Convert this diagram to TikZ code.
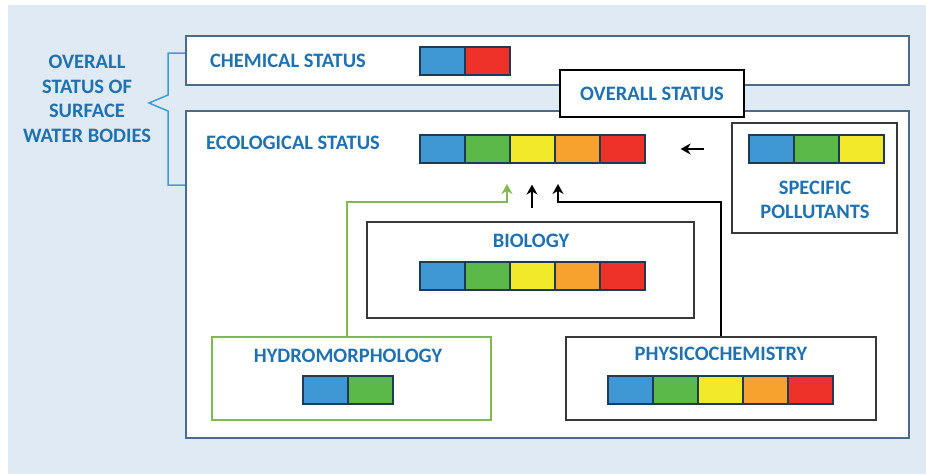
\documentclass[tikz,border=0pt]{standalone}
\usepackage{fontspec}
\setmainfont{Carlito}
\usetikzlibrary{arrows.meta, positioning}
\definecolor{panelBlue}{HTML}{DFEAF5}
\definecolor{frameBlue}{HTML}{4A6B8A}
\definecolor{labelBlue}{HTML}{1F72AF}
\definecolor{braceBlue}{HTML}{3A9FD8}
\definecolor{cellBlue}{HTML}{3F98D4}
\definecolor{cellGreen}{HTML}{5BBA47}
\definecolor{cellYellow}{HTML}{F1E92A}
\definecolor{cellOrange}{HTML}{F7A12F}
\definecolor{cellRed}{HTML}{EE3129}
\definecolor{cellEdge}{HTML}{1E3A56}
\definecolor{hydroGreen}{HTML}{80B950}

\begin{document}
\begin{tikzpicture}[x=1pt, y=-1pt,
    frame/.style={draw=frameBlue, line width=2.2pt, fill=white, inner sep=0pt},
    panel/.style={draw=black!78, line width=1.8pt, fill=white, inner sep=0pt},
    label/.style={text=labelBlue, font=\fontsize{20.5}{24.5}\selectfont\bfseries, align=center},
    cell/.style={draw=cellEdge, line width=1.2pt, minimum width=45pt, minimum height=28pt, inner sep=0pt},
    arrow/.style={-{Stealth[length=10pt,width=11pt]}, line width=1.5pt},
]
    \useasboundingbox (0,0) rectangle (926,474);
    \fill[panelBlue] (8,5) rectangle (926,474);

    % outer frames
    \node[frame, minimum width=723pt, minimum height=49pt] (chem) at (547.5,60.5) {};
    \node[frame, minimum width=723pt, minimum height=327pt] (eco) at (547.5,274.5) {};
    \node[panel, draw=black, line width=1.5pt, minimum width=184pt, minimum height=47pt] (overall) at (652,93.5) {};

    % inner boxes
    \node[panel, minimum width=165pt, minimum height=110pt] (spec) at (814.5,178) {};
    \node[panel, minimum width=327pt, minimum height=96pt] (bio) at (530.5,270) {};
    \node[panel, draw=hydroGreen, minimum width=279pt, minimum height=83pt] (hydro) at (351.5,378.5) {};
    \node[panel, minimum width=310pt, minimum height=83pt] (physico) at (721,378.5) {};

    % labels
    \node[label] (sumLabel) at (87,99) {OVERALL\\STATUS OF\\SURFACE\\WATER BODIES};
    \node[label] (chemLabel) at (288,61) {CHEMICAL STATUS};
    \node[label] (ecoLabel) at (293,143) {ECOLOGICAL STATUS};
    \node[label] (overallLabel) at (652,94) {OVERALL STATUS};
    \node[label] (specLabel) at (815,200) {SPECIFIC\\POLLUTANTS};
    \node[label] (bioLabel) at (531,241) {BIOLOGY};
    \node[label] (hydroLabel) at (348,356) {HYDROMORPHOLOGY};
    \node[label] (physicoLabel) at (721,354) {PHYSICOCHEMISTRY};

    % status bars
    \foreach \c [count=\i] in {cellBlue,cellRed}
        \node[cell, fill=\c] (chem\i) at ({397.5+45*\i},61) {};
    \foreach \c [count=\i] in {cellBlue,cellGreen,cellYellow,cellOrange,cellRed}
        \node[cell, fill=\c] (eco\i) at ({397.5+45*\i},149) {};
    \foreach \c [count=\i] in {cellBlue,cellGreen,cellYellow}
        \node[cell, fill=\c] (spec\i) at ({726.5+45*\i},149) {};
    \foreach \c [count=\i] in {cellBlue,cellGreen,cellYellow,cellOrange,cellRed}
        \node[cell, fill=\c] (bio\i) at ({397.5+45*\i},276) {};
    \foreach \c [count=\i] in {cellBlue,cellGreen}
        \node[cell, fill=\c] (hydro\i) at ({280.5+45*\i},390) {};
    \foreach \c [count=\i] in {cellBlue,cellGreen,cellYellow,cellOrange,cellRed}
        \node[cell, fill=\c] (physico\i) at ({585.5+45*\i},390) {};

    % brace
    \draw[braceBlue, line width=1.5pt] (chem.west |- 0,53) -- (168,53) -- (168,95) -- (149,103)
        -- (168,111) -- (168,185) -- (eco.west |- 0,185);

    % arrows into the ecological status
    \coordinate (hydroTip) at (507,184);
    \coordinate (physicoTip) at (558,184);
    \draw[arrow, color=hydroGreen] ([xshift=-4.5pt]hydro.north) -- ++(0,-134) -| (hydroTip);
    \draw[arrow, shorten <=13pt, shorten >=21pt] ([xshift=1.5pt]bio.north) -- ([xshift=1.5pt]bio.north |- eco3.south);
    \draw[arrow] (physico.north) -- ++(0,-134) -| (physicoTip);
    \draw[arrow, line width=2pt, shorten <=27pt, shorten >=35pt] (spec.west |- eco5.east) -- (eco5.east);
\end{tikzpicture}
\end{document}
